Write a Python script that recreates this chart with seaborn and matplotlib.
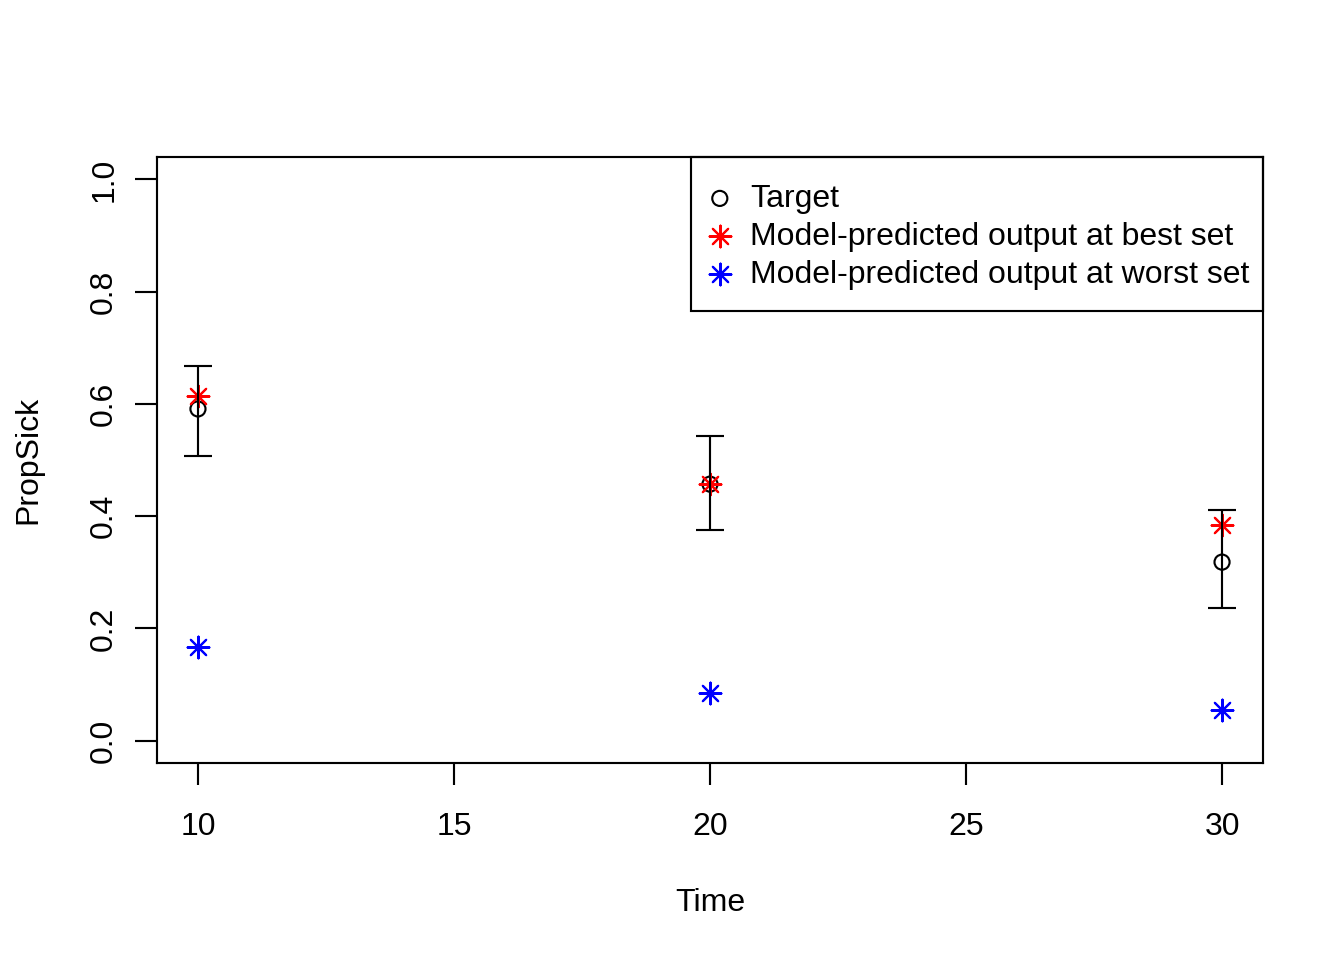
import matplotlib
matplotlib.use("Agg")
import matplotlib.pyplot as plt
import matplotlib.patches as mpatches
import numpy as np
import pandas as pd
import seaborn as sns

# values
times = [10, 20, 30]
target = [0.591, 0.457, 0.318]
target_lo = [0.507, 0.375, 0.237]
target_hi = [0.667, 0.543, 0.411]
best_set = [0.614, 0.457, 0.384]
worst_set = [0.167, 0.085, 0.055]
labels = ["Target", "Model-predicted output at best set", "Model-predicted output at worst set"]

sns.set_style("white")
plt.rcParams["font.family"] = ["Liberation Sans", "DejaVu Sans"]
plt.rcParams["font.size"] = 12
plt.rcParams["text.color"] = "black"
plt.rcParams["axes.labelcolor"] = "black"
plt.rcParams["xtick.color"] = "black"
plt.rcParams["ytick.color"] = "black"

df = pd.DataFrame({
    "Time": times * 3,
    "PropSick": target + best_set + worst_set,
    "series": [labels[0]] * 3 + [labels[1]] * 3 + [labels[2]] * 3,
})

W, H = 1344, 960
fig = plt.figure(figsize=(7, 5), dpi=192)
ax = fig.add_axes([157 / W, 1 - 763 / H, (1263 - 157) / W, (763 - 157) / H])

star = (8, 2, 0)
lw = 0.8
ax.errorbar(times, target,
            yerr=[np.subtract(target, target_lo), np.subtract(target_hi, target)],
            fmt="none", ecolor="black", elinewidth=lw, capsize=5.3, capthick=lw)
sns.scatterplot(data=df[df.series == labels[0]], x="Time", y="PropSick", ax=ax,
                marker="o", s=32, facecolor="none", edgecolor="black", linewidth=lw,
                label=labels[0])
sns.scatterplot(data=df[df.series == labels[1]], x="Time", y="PropSick", ax=ax,
                marker=star, s=66, color="red", linewidth=lw, label=labels[1])
sns.scatterplot(data=df[df.series == labels[2]], x="Time", y="PropSick", ax=ax,
                marker=star, s=66, color="blue", linewidth=lw, label=labels[2])

ax.set_xlim(9.2, 30.8)
ax.set_ylim(-0.04, 1.04)
ax.set_xticks([10, 15, 20, 25, 30])
ax.set_yticks([0.0, 0.2, 0.4, 0.6, 0.8, 1.0])
ax.set_yticklabels(["0.0", "0.2", "0.4", "0.6", "0.8", "1.0"], rotation=90, va="center")
ax.tick_params(axis="x", direction="out", length=8.2, width=lw, labelsize=12, bottom=True, pad=10)
ax.tick_params(axis="y", direction="out", length=8.2, width=lw, labelsize=12, left=True, pad=6)
for sp in ax.spines.values():
    sp.set_color("black")
    sp.set_linewidth(lw)
ax.set_xlabel("Time", fontsize=12, labelpad=17.5)
ax.set_ylabel("PropSick", fontsize=12, labelpad=17)

# legend box drawn separately so its padding can be uneven like R's
box_x0 = (691 - 157) / 1106
box_y0 = (763 - 311) / 606
ax.add_patch(mpatches.Rectangle((box_x0, box_y0), 1 - box_x0, 1 - box_y0,
                                transform=ax.transAxes, fill=False, edgecolor="black",
                                linewidth=lw, clip_on=False, zorder=5))
leg = ax.legend(loc="upper left", bbox_to_anchor=(box_x0, 1 - 14 / 606),
                borderaxespad=0, frameon=False, fontsize=12, handletextpad=0.44,
                labelspacing=0.25, borderpad=0.4, handlelength=1.0)

fig.savefig("out.png", dpi=192)
